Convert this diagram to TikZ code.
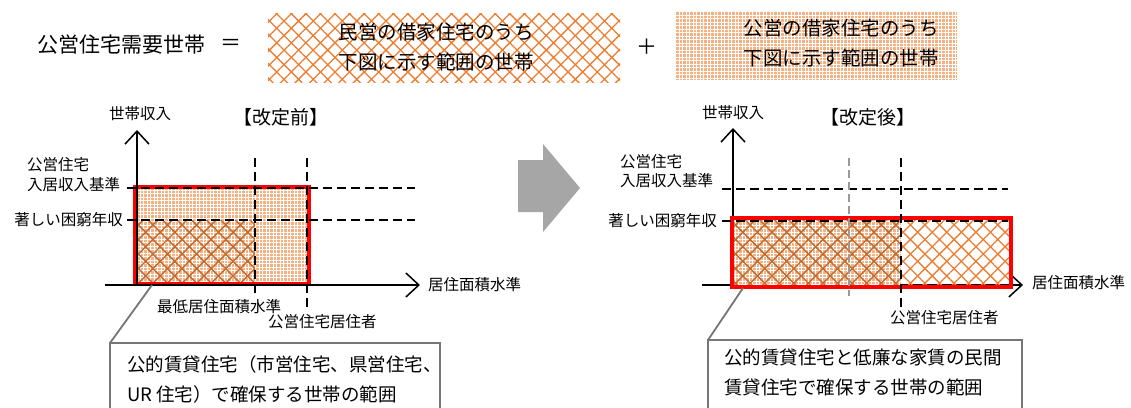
\documentclass[tikz,border=0pt]{standalone}
\usepackage{fontspec}
\setmainfont{Noto Sans CJK JP}
\usetikzlibrary{patterns.meta,arrows.meta}
\definecolor{hatchor}{HTML}{ED7D31}
\definecolor{gridor}{HTML}{F4B183}
\definecolor{brownh}{HTML}{BF6A2E}
\definecolor{redb}{HTML}{FF0000}
\definecolor{arrowgray}{HTML}{A6A6A6}
\definecolor{callgray}{HTML}{767676}
\definecolor{dgray}{HTML}{999999}
\tikzset{
  gridfill/.style={fill=gridor, postaction={pattern={Hatch[angle=0,distance=3.5pt,line width=0.8pt]}, pattern color=white}},
  orhatch/.style={pattern={Hatch[angle=45,distance=10.3pt,line width=1.3pt]}, pattern color=hatchor},
  brhatch/.style={pattern={Hatch[angle=45,distance=10.3pt,line width=1.4pt]}, pattern color=brownh},
  redbox/.style={draw=redb, line width=4pt},
  axisline/.style={line width=1.5pt, -{Straight Barb[length=13pt,width=24pt,line width=1.5pt]}},
  dashline/.style={line width=2.6pt, dash pattern=on 9pt off 5pt},
  graydash/.style={draw=dgray, line width=1.8pt, dash pattern=on 8pt off 4pt},
  lbl/.style={inner sep=0pt, font=\fontsize{15.5}{19}\selectfont},
  ttl/.style={inner sep=0pt, font=\fontsize{19}{22}\selectfont},
  boxtxt/.style={inner sep=0pt, font=\fontsize{19.5}{30}\selectfont, align=center},
  calltxt/.style={inner sep=0pt, font=\fontsize{18.5}{30}\selectfont, align=left, anchor=north west},
  callline/.style={draw=callgray, line width=1.8pt},
}
\begin{document}
\begin{tikzpicture}[x=1pt,y=-1pt]
\clip (0,0) rectangle (1131,407);
\fill[white] (0,0) rectangle (1131,407);

% ---------- top equation ----------
\node[inner sep=0pt, font=\fontsize{21}{24}\selectfont] (demand) at (121,45) {公営住宅需要世帯};
\node[inner sep=0pt, font=\fontsize{21}{24}\selectfont] (eq) at (231,45) {＝};
\path[orhatch] (268,13) rectangle (620,82);
\node[boxtxt] (box1) at (436,47) {民営の借家住宅のうち\\下図に示す範囲の世帯};
\node[inner sep=0pt, font=\fontsize{21}{24}\selectfont] (plus) at (647,47) {＋};
\path[gridfill] (675,11) rectangle (957,80);
\node[boxtxt] (box2) at (841,43) {公営の借家住宅のうち\\下図に示す範囲の世帯};

% ---------- left diagram ----------
\path[gridfill] (137,188) rectangle (307,285);
\path[brhatch] (137,220) rectangle (255,285);
\draw[redbox] (135,187) rectangle (309,284);
\coordinate (Lo) at (137,285);
\coordinate (Ly) at (137,130);
\coordinate (Lxs) at (105,285);
\coordinate (Lx) at (420,285);
\draw[axisline] (Lo) -- (Ly);
\draw[axisline] (Lxs) -- (Lx);
\coordinate (Lh1a) at (127,188); \coordinate (Lh1b) at (415,188);
\coordinate (Lh2a) at (127,220); \coordinate (Lh2b) at (415,220);
\coordinate (Lv1a) at (255,158); \coordinate (Lv1b) at (255,296);
\coordinate (Lv2a) at (307,158); \coordinate (Lv2b) at (307,308);
\draw[dashline] (Lh1a) -- (Lh1b);
\draw[dashline] (Lh2a) -- (Lh2b);
\draw[dashline] (Lv1a) -- (Lv1b);
\draw[dashline] (Lv2a) -- (Lv2b);
\node[lbl] (Lyl) at (140,114) {世帯収入};
\node[ttl] (Lttl) at (281,117) {【改定前】};
\node[lbl, anchor=west] (Lk1) at (27,165) {公営住宅};
\node[lbl, anchor=west] (Lk2) at (27,185) {入居収入基準};
\node[lbl, anchor=east] (Lk3) at (123,220) {著しい困窮年収};
\node[lbl, anchor=west] (Lm1) at (157,307) {最低居住面積水準};
\node[lbl, anchor=west] (Lm2) at (268,322) {公営住宅居住者};
\node[lbl, anchor=west] (Lxl) at (428,285) {居住面積水準};

% callout left
\coordinate (Lp) at (152,285);
\coordinate (Lc) at (110,343);
\draw[callline] (Lc) rectangle (440,430);
\draw[callline] (Lp) -- (Lc);
\node[calltxt] (Lcall) at (127,355) {公的賃貸住宅（市営住宅、県営住宅、\\UR 住宅）で確保する世帯の範囲};

% ---------- big arrow ----------
\fill[arrowgray] (518,160) -- (543,160) -- (543,144) -- (580,188) -- (543,232) -- (543,212) -- (518,212) -- cycle;

% ---------- right diagram ----------
\coordinate (Ro) at (733,285);
\coordinate (Ry) at (733,128);
\coordinate (Rxs) at (702,285);
\coordinate (Rx) at (1023,285);
\draw[axisline] (Ro) -- (Ry);
\draw[axisline] (Rxs) -- (Rx);
\path[gridfill] (733,220) rectangle (901,286);
\path[brhatch] (733,220) rectangle (901,286);
\path[orhatch] (901,220) rectangle (1010,286);
\draw[redbox] (732,218) rectangle (1011,287);
\coordinate (Rh1a) at (722,189); \coordinate (Rh1b) at (1008,189);
\coordinate (Rh2a) at (722,221); \coordinate (Rh2b) at (1008,221);
\coordinate (Rv1a) at (849,158); \coordinate (Rv1b) at (849,296);
\coordinate (Rv2a) at (901,158); \coordinate (Rv2b) at (901,307);
\draw[dashline] (Rh1a) -- (Rh1b);
\draw[dashline] (Rh2a) -- (Rh2b);
\draw[graydash] (Rv1a) -- (Rv1b);
\draw[dashline] (Rv2a) -- (Rv2b);
\node[lbl] (Ryl) at (733,113) {世帯収入};
\node[ttl] (Rttl) at (868,117) {【改定後】};
\node[lbl, anchor=west] (Rk1) at (620,162) {公営住宅};
\node[lbl, anchor=west] (Rk2) at (620,181) {入居収入基準};
\node[lbl, anchor=east] (Rk3) at (717,221) {著しい困窮年収};
\node[lbl, anchor=west] (Rm2) at (890,318) {公営住宅居住者};
\node[lbl, anchor=west] (Rxl) at (1032,283) {居住面積水準};

% callout right
\coordinate (Rp) at (743,288);
\coordinate (Rc) at (708,340);
\draw[callline] (Rc) rectangle (1022,430);
\draw[callline] (Rp) -- (Rc);
\node[calltxt] (Rcall) at (724,349) {公的賃貸住宅と低廉な家賃の民間\\賃貸住宅で確保する世帯の範囲};
\end{tikzpicture}
\end{document}
